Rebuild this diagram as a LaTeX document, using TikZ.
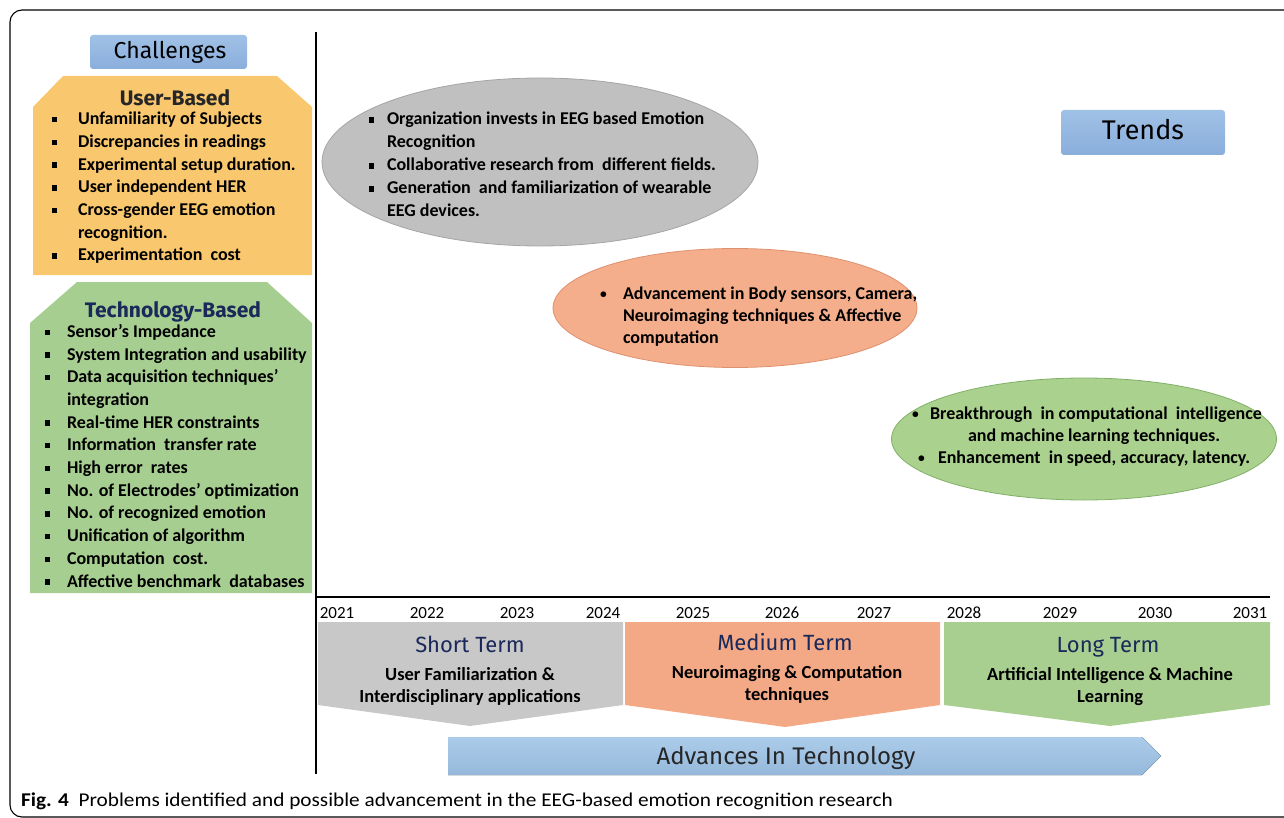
\documentclass[tikz,border=0pt]{standalone}
\usepackage{fontspec}
\setmainfont{Carlito}
\newfontfamily\titlefont{Fira Sans}
\usetikzlibrary{shapes.geometric}
\definecolor{boxblue}{RGB}{160,193,230}
\definecolor{boxblueD}{RGB}{138,174,220}
\definecolor{userorange}{RGB}{249,199,110}
\definecolor{techgreen}{RGB}{167,206,145}
\definecolor{ellgray}{RGB}{192,192,192}
\definecolor{ellgrayD}{RGB}{165,165,165}
\definecolor{ellsalmon}{RGB}{244,174,140}
\definecolor{ellsalmonD}{RGB}{222,145,110}
\definecolor{ellgreen}{RGB}{170,209,142}
\definecolor{ellgreenD}{RGB}{128,176,104}
\definecolor{termgray}{RGB}{200,200,200}
\definecolor{termsalmon}{RGB}{243,168,134}
\definecolor{termgreen}{RGB}{168,207,143}
\definecolor{arrowblue}{RGB}{157,194,230}
\definecolor{navy}{RGB}{26,40,90}
\newcommand{\sqb}{\rule[0.13em]{0.3em}{0.3em}}
\newcommand{\smb}{\raisebox{0.05em}{\scalebox{0.75}{•}}}
\begin{document}
\begin{tikzpicture}[x=1pt,y=-1pt,
  every node/.style={inner sep=0pt,outer sep=0pt},
  titlebox/.style={rectangle,rounded corners=3pt,top color=boxblue,bottom color=boxblueD,draw=none},
  listtext/.style={font=\bfseries\fontsize{18}{22.7}\selectfont,align=left,anchor=base west},
  elltext/.style={font=\bfseries\fontsize{18}{23}\selectfont,align=left,anchor=base west},
  heading/.style={font=\titlefont\bfseries\fontsize{21}{24}\selectfont,anchor=base},
  termtitle/.style={font=\titlefont\fontsize{22}{24}\selectfont,text=navy,anchor=base},
  termsub/.style={font=\bfseries\fontsize{18.5}{22}\selectfont,align=center,anchor=base},
  year/.style={font=\fontsize{17}{20}\selectfont,anchor=base},
  axis/.style={line width=2pt,black}]
\useasboundingbox (0,0) rectangle (1284,818);
% frame
\draw[line width=1.1pt,rounded corners=12pt] (1300,10) -- (10,10) -- (10,817) -- (1300,817);
% axes
\coordinate (vtop) at (316,32);
\coordinate (vbot) at (316,774);
\coordinate (hleft) at (316,597);
\coordinate (hright) at (1270,597);
\draw[axis] (vtop) -- (vbot);
\draw[axis] (hleft) -- (hright);
% challenge boxes
\node[titlebox,minimum width=157pt,minimum height=34pt] (chalbox) at (168.5,52) {};
\node[font=\titlefont\fontsize{23}{26}\selectfont,anchor=base] (chal) at (170,59) {Challenges};
\fill[userorange] (33,107) -- (63,76) -- (277,76) -- (312,107) -- (312,275) -- (33,275) -- cycle;
\node[heading,text=black!85] (userhead) at (175,106) {User-Based};
% base anchor of a multi-line node = last line baseline
\node[listtext] (userlist) at (52,261) {%
\makebox[26pt][l]{\sqb}Unfamiliarity of Subjects\\
\makebox[26pt][l]{\sqb}Discrepancies in readings\\
\makebox[26pt][l]{\sqb}Experimental setup duration.\\
\makebox[26pt][l]{\sqb}User independent HER\\
\makebox[26pt][l]{\sqb}Cross-gender EEG emotion\\
\hspace*{26pt}recognition.\\
\makebox[26pt][l]{\sqb}Experimentation\ \ cost};
\fill[techgreen] (30,323) -- (77,282) -- (267,282) -- (312,323) -- (312,593) -- (30,593) -- cycle;
\node[heading,text=navy] (techhead) at (173,317) {Technology-Based};
\node[listtext] (techlist) at (45,587) {%
\makebox[22pt][l]{\sqb}Sensor’s Impedance\\
\makebox[22pt][l]{\sqb}System Integration and usability\\
\makebox[22pt][l]{\sqb}Data acquisition techniques’\\
\hspace*{22pt}integration\\
\makebox[22pt][l]{\sqb}Real-time HER constraints\\
\makebox[22pt][l]{\sqb}Information\ \ transfer rate\\
\makebox[22pt][l]{\sqb}High error\ \ rates\\
\makebox[22pt][l]{\sqb}No. of Electrodes’ optimization\\
\makebox[22pt][l]{\sqb}No. of recognized emotion\\
\makebox[22pt][l]{\sqb}Unification of algorithm\\
\makebox[22pt][l]{\sqb}Computation\ \ cost.\\
\makebox[22pt][l]{\sqb}Affective benchmark\ \ databases};
% trends
\node[titlebox,minimum width=164pt,minimum height=45pt] (trendbox) at (1143,132.5) {};
\node[font=\titlefont\fontsize{27}{30}\selectfont,anchor=base] (trends) at (1143,140) {Trends};
% ellipses
\node[ellipse,fill=ellgray,draw=ellgrayD,line width=0.8pt,minimum width=436pt,minimum height=168pt] (ellA) at (540,162) {};
\node[elltext] (ellAtext) at (369,217) {%
\makebox[18pt][l]{\sqb}Organization invests in EEG based Emotion\\
\hspace*{18pt}Recognition\\
\makebox[18pt][l]{\sqb}Collaborative research from\ \ different fields.\\
\makebox[18pt][l]{\sqb}Generation\ \ and familiarization of wearable\\
\hspace*{18pt}EEG devices.};
\node[ellipse,fill=ellsalmon,draw=ellsalmonD,line width=0.8pt,minimum width=364pt,minimum height=119pt] (ellB) at (735,308) {};
\node[elltext,font=\bfseries\fontsize{18}{22}\selectfont] (ellBtext) at (600,343) {%
\makebox[23pt][l]{\smb}Advancement in Body sensors, Camera,\\
\hspace*{23pt}Neuroimaging techniques \& Affective\\
\hspace*{23pt}computation};
\node[ellipse,fill=ellgreen,draw=ellgreenD,line width=0.8pt,minimum width=385pt,minimum height=122pt] (ellC) at (1084,439) {};
\node[elltext] (ellCa) at (912,419) {\makebox[18pt][l]{\smb}Breakthrough\ \ in computational\ \ intelligence};
\node[elltext] (ellCb) at (968,441) {and machine learning techniques.};
\node[elltext] (ellCc) at (918,463) {\makebox[20pt][l]{\smb}Enhancement\ \ in speed, accuracy, latency.};
% years
\foreach \yr/\xx in {2021/337,2022/427,2023/517,2024/603,2025/693,2026/782,2027/874,2028/964,2029/1060,2030/1155,2031/1250}
  \node[year] (y\yr) at (\xx,618) {\yr};
% term shapes
\fill[termgray] (318,622) -- (623,622) -- (623,705) -- (470,726) -- (318,705) -- cycle;
\fill[termsalmon] (625,622) -- (940,622) -- (940,705) -- (785,727) -- (625,705) -- cycle;
\fill[termgreen] (944,622) -- (1270,622) -- (1270,705) -- (1110,726) -- (944,705) -- cycle;
\node[termtitle] (shortT) at (470,652) {Short Term};
\node[termtitle] (medT) at (785,650) {Medium Term};
\node[termtitle] (longT) at (1108,652) {Long Term};
\node[termsub] (shortS) at (470,702) {User Familiarization \&\\Interdisciplinary applications};
\node[termsub] (medS) at (787,700) {Neuroimaging \& Computation\\techniques};
\node[termsub] (longS) at (1110,702) {Artificial Intelligence \& Machine\\Learning};
% advances arrow
\fill[top color=arrowblue!85!white,bottom color=arrowblue!95!black] (448,737) -- (1142,737) -- (1161,756) -- (1142,775) -- (448,775) -- cycle;
\node[font=\titlefont\fontsize{24}{26}\selectfont,text=black!85,anchor=base] (adv) at (786,764) {Advances In Technology};
% caption
\node[anchor=base west,font=\fontsize{19.5}{22}\selectfont] (caption) at (21,806) {\resizebox{872pt}{\height}{\textbf{Fig. 4}\ \ Problems identified and possible advancement in the EEG-based emotion recognition research}};
\end{tikzpicture}
\end{document}
